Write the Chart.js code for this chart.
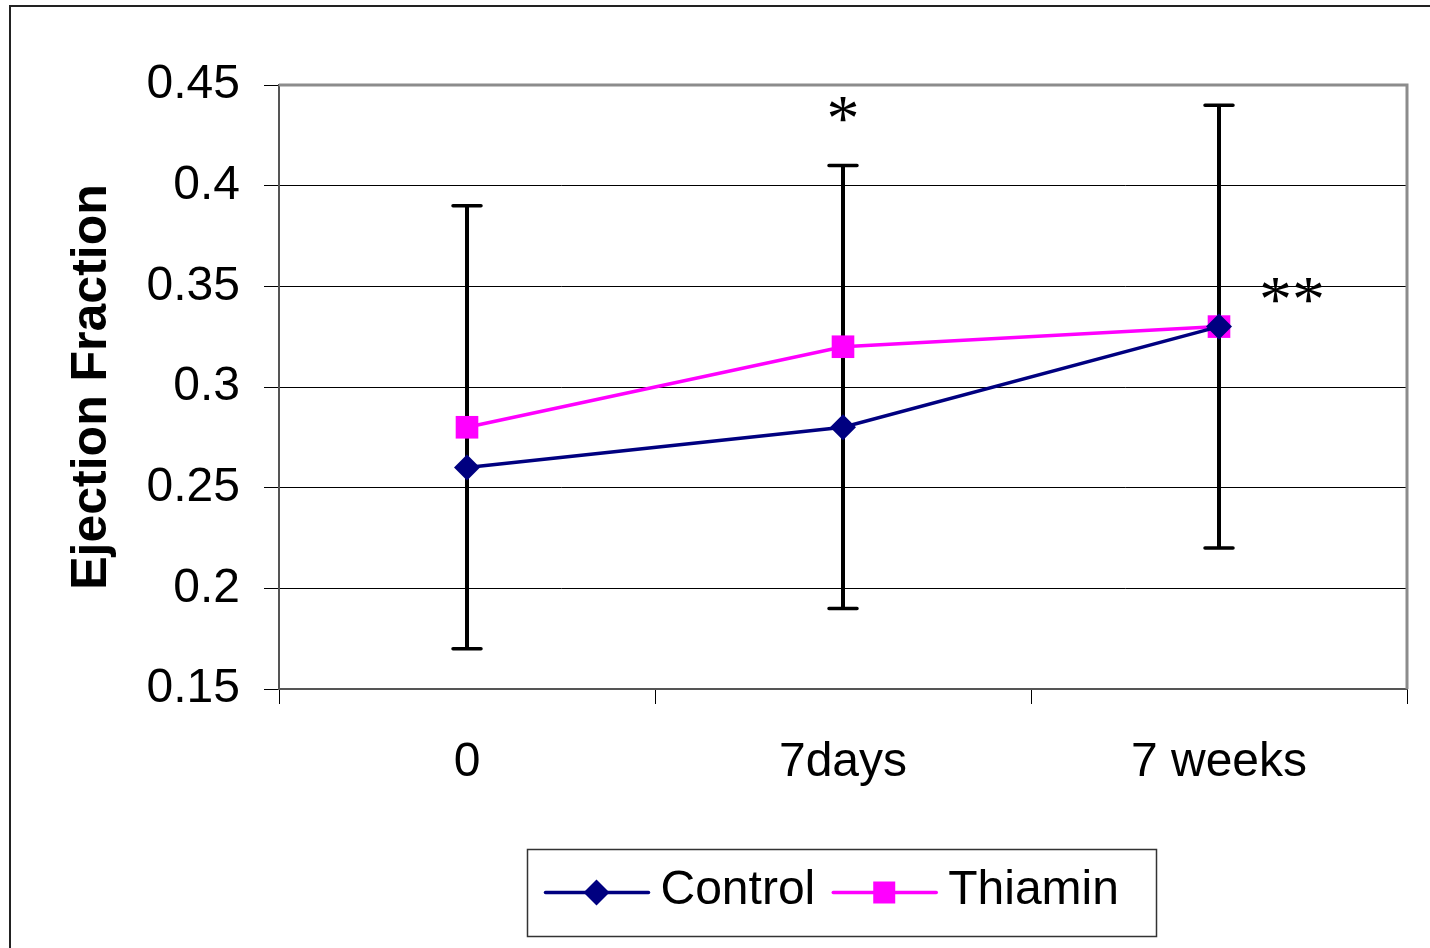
<!DOCTYPE html>
<html>
<head>
<meta charset="utf-8">
<script src="https://cdn.jsdelivr.net/npm/chart.js@4/dist/chart.umd.min.js"></script>
<style>
  html, body { margin: 0; padding: 0; background: #fff; }
  #wrap { width: 1430px; height: 948px; }
</style>
</head>
<body>
<div id="wrap"><canvas id="efChart" width="1430" height="948"></canvas></div>
<script>
// time points and mean ejection fraction per group
var timeLabels = ["0", "7days", "7 weeks"];
var controlValues = [0.26, 0.28, 0.33];
var thiaminValues = [0.28, 0.32, 0.33];

// error bar range per time point
var errLow = [0.17, 0.19, 0.22];
var errHigh = [0.39, 0.41, 0.44];

// y axis ticks
var yTicks = [0.15, 0.2, 0.25, 0.3, 0.35, 0.4, 0.45];

// significance marks: time point, height, text
var sigMarks = [
  { at: "7days", value: 0.438, text: "*" },
  { at: "7 weeks", value: 0.348, text: "**" }
];

var color = {
  Navy: "#000080",
  Magenta: "#ff00ff",
  Black: "#000000",
  Frame: "#8c8c8c"
};
var fontSans = "'Liberation Sans', Arial, sans-serif";

// outer frame around the whole figure
var framePlugin = {
  id: "frame",
  beforeDraw: function (chart) {
    var ctx = chart.ctx;
    ctx.save();
    ctx.strokeStyle = "#222";
    ctx.lineWidth = 2;
    ctx.beginPath();
    ctx.moveTo(10, 960);
    ctx.lineTo(10, 6);
    ctx.lineTo(1440, 6);
    ctx.stroke();
    ctx.restore();
  }
};

// grey top/right edge of the plot area plus the error bars
var errorBarPlugin = {
  id: "errorBars",
  beforeDatasetsDraw: function (chart) {
    var ctx = chart.ctx;
    var area = chart.chartArea;
    var x = chart.scales.x, y = chart.scales.y;
    ctx.save();
    ctx.strokeStyle = color.Frame;
    ctx.lineWidth = 3;
    ctx.beginPath();
    ctx.moveTo(area.left, area.top);
    ctx.lineTo(area.right, area.top);
    ctx.lineTo(area.right, area.bottom);
    ctx.stroke();

    ctx.strokeStyle = color.Black;
    for (var i = 0; i < timeLabels.length; i++) {
      var px = x.getPixelForValue(i);
      var top = y.getPixelForValue(errHigh[i]);
      var bot = y.getPixelForValue(errLow[i]);
      ctx.lineWidth = 4;
      ctx.beginPath();
      ctx.moveTo(px, top);
      ctx.lineTo(px, bot);
      ctx.stroke();
      ctx.lineWidth = 3.5;
      ctx.lineCap = "round";
      ctx.beginPath();
      ctx.moveTo(px - 14, top);
      ctx.lineTo(px + 14, top);
      ctx.moveTo(px - 14, bot);
      ctx.lineTo(px + 14, bot);
      ctx.stroke();
      ctx.lineCap = "butt";
    }
    ctx.restore();
  },
  afterDatasetsDraw: function (chart) {
    var ctx = chart.ctx;
    var x = chart.scales.x, y = chart.scales.y;
    ctx.save();
    ctx.fillStyle = color.Black;
    ctx.font = "66px 'Liberation Serif', 'Times New Roman', serif";
    ctx.textAlign = "center";
    ctx.textBaseline = "alphabetic";
    sigMarks.forEach(function (m, k) {
      var px = x.getPixelForValue(timeLabels.indexOf(m.at));
      if (k == 1) px += 73;
      var m2 = ctx.measureText(m.text);
      var py = y.getPixelForValue(m.value) + (m2.actualBoundingBoxAscent - m2.actualBoundingBoxDescent) / 2;
      ctx.fillText(m.text, px, py);
    });
    ctx.restore();
  }
};

// boxed legend under the axis, line + marker for each series
var legendPlugin = {
  id: "boxLegend",
  afterDraw: function (chart) {
    var ctx = chart.ctx;
    var area = chart.chartArea;
    var boxW = 629, boxH = 87;
    var bx = Math.round((area.left + area.right) / 2 - boxW / 2) - 2 + 0.5;
    var by = 849.5;
    ctx.save();
    ctx.strokeStyle = "#333";
    ctx.lineWidth = 1.5;
    ctx.strokeRect(bx, by, boxW, boxH);

    ctx.font = "48px " + fontSans;
    ctx.textBaseline = "middle";
    ctx.textAlign = "left";
    var cy = by + 43;
    var cx = bx + 18;
    chart.data.datasets.forEach(function (ds) {
      ctx.strokeStyle = ds.borderColor;
      ctx.lineWidth = 3.5;
      ctx.lineCap = "round";
      ctx.beginPath();
      ctx.moveTo(cx, cy);
      ctx.lineTo(cx + 103, cy);
      ctx.stroke();
      ctx.fillStyle = ds.pointBackgroundColor;
      var mx = cx + 51;
      ctx.beginPath();
      if (ds.pointStyle == "rectRot") {
        ctx.moveTo(mx, cy - 13);
        ctx.lineTo(mx + 13, cy);
        ctx.lineTo(mx, cy + 13);
        ctx.lineTo(mx - 13, cy);
        ctx.closePath();
      } else {
        ctx.rect(mx - 11, cy - 11, 22, 22);
      }
      ctx.fill();
      ctx.fillStyle = color.Black;
      ctx.fillText(ds.label, cx + 115, cy - 2);
      cx += 115 + ctx.measureText(ds.label).width + 18;
    });
    ctx.restore();
  }
};

var efChartData = {
  labels: timeLabels,
  datasets: [
    {
      label: "Control",
      data: controlValues,
      borderColor: color.Navy,
      backgroundColor: color.Navy,
      pointBackgroundColor: color.Navy,
      pointBorderColor: color.Navy,
      borderWidth: 3.5,
      pointStyle: "rectRot",
      pointRadius: 13,
      pointBorderWidth: 0,
      tension: 0
    },
    {
      label: "Thiamin",
      data: thiaminValues,
      borderColor: color.Magenta,
      backgroundColor: color.Magenta,
      pointBackgroundColor: color.Magenta,
      pointBorderColor: color.Magenta,
      borderWidth: 3.5,
      pointStyle: "rect",
      pointRadius: 16,
      pointBorderWidth: 0,
      tension: 0
    }
  ]
};

var efChartConfig = {
  type: "line",
  data: efChartData,
  options: {
    responsive: false,
    animation: false,
    layout: {
      padding: { left: 0, top: 85, right: 23, bottom: 159 }
    },
    plugins: {
      legend: { display: false },
      tooltip: { enabled: false }
    },
    scales: {
      x: {
        offset: true,
        grid: {
          offset: true,
          drawOnChartArea: false,
          drawTicks: true,
          tickLength: 15,
          color: color.Black,
          lineWidth: 1
        },
        border: { color: "#555", width: 2 },
        ticks: {
          color: color.Black,
          padding: 30,
          maxRotation: 0,
          font: { family: fontSans, size: 48 }
        },
        afterFit: function (scale) { scale.height = 100; }
      },
      y: {
        min: 0.15,
        max: 0.45,
        afterBuildTicks: function (scale) {
          scale.ticks = yTicks.map(function (v) { return { value: v }; });
        },
        grid: {
          color: color.Black,
          lineWidth: 1,
          tickLength: 15
        },
        border: { color: "#555", width: 2 },
        ticks: {
          color: color.Black,
          padding: 24,
          font: { family: fontSans, size: 48 },
          callback: function (v) { return String(+v.toFixed(2)); }
        },
        title: {
          display: true,
          text: "Ejection Fraction",
          color: color.Black,
          padding: { top: 62, bottom: 0 },
          font: { family: fontSans, size: 50, weight: "bold" }
        },
        afterFit: function (scale) { scale.width = 279; }
      }
    }
  },
  plugins: [framePlugin, errorBarPlugin, legendPlugin]
};

var efChart = new Chart(document.getElementById("efChart"), efChartConfig);
</script>
</body>
</html>
